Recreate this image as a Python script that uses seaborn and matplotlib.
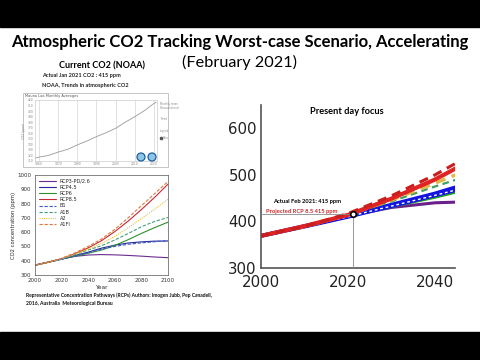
import matplotlib
matplotlib.use("Agg")
import matplotlib.pyplot as plt
from matplotlib.patches import Rectangle, Ellipse
import seaborn as sns
import pandas as pd

sns.set_theme(style="white")
plt.rcParams['font.family'] = ['DejaVu Sans']

# ---------------- data ----------------
noaa_years = [1958, 1960, 1965, 1970, 1975, 1980, 1985, 1990, 1995, 2000, 2005, 2010, 2015, 2020, 2021]
noaa_co2 = [315, 317, 320, 326, 331, 339, 346, 354, 361, 369, 380, 390, 401, 414, 416]
noaa_xticks = [1960, 1970, 1980, 1990, 2000, 2010, 2020]

years = [2000, 2010, 2020, 2030, 2040, 2050, 2060, 2070, 2080, 2090, 2100]
rcp26 = [369, 390, 412, 430, 440, 443, 441, 437, 432, 426, 421]
rcp45 = [369, 390, 411, 436, 460, 488, 509, 524, 532, 537, 538]
rcp6 = [369, 390, 411, 432, 452, 475, 507, 547, 591, 632, 670]
rcp85 = [369, 390, 414, 449, 490, 540, 604, 677, 758, 844, 936]
b1 = [369, 389, 410, 433, 456, 480, 500, 515, 525, 533, 540]
a1b = [369, 389, 414, 443, 475, 505, 545, 590, 638, 675, 703]
a2 = [369, 389, 414, 446, 482, 520, 570, 630, 695, 760, 830]
a1fi = [369, 389, 417, 455, 500, 552, 620, 700, 785, 870, 955]

scenario_names = ["RCP3-PD/2.6", "RCP4.5", "RCP6", "RCP8.5", "B1", "A1B", "A2", "A1FI"]
scenario_values = [rcp26, rcp45, rcp6, rcp85, b1, a1b, a2, a1fi]

actual_year = 2021.1
actual_ppm = 415

SLIDE_FONT = "Lato"

# ---------------- figure ----------------
W, H = 480, 360
fig = plt.figure(figsize=(4.8, 3.6), dpi=100)
fig.patch.set_facecolor("white")

def fx(px):
    return px / W

def fy(py):
    return 1 - py / H

def box(x0, y0, x1, y1):
    return [fx(x0), fy(y1), (x1 - x0) / W, (y1 - y0) / H]

# black letterbox bars
fig.add_artist(Rectangle((0, fy(27)), 1, 27 / H, transform=fig.transFigure, color="black", zorder=0))
fig.add_artist(Rectangle((0, 0), 1, (360 - 332) / H, transform=fig.transFigure, color="black", zorder=0))

# titles
fig.text(fx(240), fy(42), "Atmospheric CO2 Tracking Worst-case Scenario, Accelerating",
         ha="center", va="center", fontsize=11.95, fontweight="bold", family=SLIDE_FONT, color="black")
fig.text(fx(240), fy(62), "(February 2021)", ha="center", va="center", fontsize=11.7,
         family=SLIDE_FONT, color="black")
fig.text(fx(102), fy(66), "Current CO2 (NOAA)", ha="center", va="center", fontsize=6.45,
         fontweight="bold", family=SLIDE_FONT, color="black")
fig.text(fx(42), fy(76), "Actual Jan 2021 CO2 : 415 ppm", ha="left", va="center", fontsize=4.0,
         fontweight="bold", family=SLIDE_FONT, color="#222222")
fig.text(fx(42), fy(85), "NOAA, Trends in atmospheric CO2", ha="left", va="center", fontsize=4.0,
         fontweight="bold", family=SLIDE_FONT, color="#222222")

# ---------------- NOAA screenshot-like chart ----------------
fig.add_artist(Rectangle((fx(23), fy(167)), (168 - 23) / W, (167 - 93) / H, transform=fig.transFigure,
                         facecolor="white", edgecolor="#bbbbbb", lw=0.6, zorder=1))
fig.text(fx(25), fy(96.5), "Mauna Loa Monthly Averages", ha="left", va="center", fontsize=2.6,
         color="#555555", zorder=3)
ax1 = fig.add_axes(box(35, 100, 157, 161))
ax1.set_zorder(2)
sns.lineplot(x=noaa_years, y=noaa_co2, ax=ax1, color="#999999", lw=0.6)
ax1.set_xlim(1958, 2021.5)
ax1.set_ylim(310, 420)
ax1.set_xticks(noaa_xticks)
ax1.set_yticks(list(range(310, 421, 10)))
ax1.tick_params(labelsize=2.2, colors="#888888", length=0, pad=1)
ax1.grid(axis="x", color="#dddddd", lw=0.6)
ax1.set_ylabel("CO2 (ppm)", fontsize=2.2, color="#888888", labelpad=1)
for s in ax1.spines.values():
    s.set_color("#cccccc")
    s.set_linewidth(0.5)
fig.text(fx(160), fy(104), "Monthly mean", fontsize=1.8, color="#888888", va="center", zorder=3)
fig.text(fx(160), fy(108), "Deseasonalized", fontsize=1.8, color="#888888", va="center", zorder=3)
fig.text(fx(160), fy(119), "Trend", fontsize=1.8, color="#888888", va="center", zorder=3)
fig.text(fx(160), fy(131), "Legend", fontsize=1.8, color="#888888", va="center", zorder=3)
fig.add_artist(Rectangle((fx(160), fy(139)), 2 / W, 2 / H, transform=fig.transFigure, color="#555555", zorder=3))
fig.text(fx(163), fy(138), "Data", fontsize=1.8, color="#888888", va="center", zorder=3)
for cx in (141, 152):
    fig.add_artist(Ellipse((fx(cx), fy(157)), 8 / W, 8 / H, transform=fig.transFigure,
                           facecolor="#8ec6e8", edgecolor="#1f5f9f", lw=0.9, zorder=4))

# ---------------- RCP / SRES full chart ----------------
left_styles = {
    "RCP3-PD/2.6": ("#6b2d8f", "-"),
    "RCP4.5": ("#27279a", "-"),
    "RCP6": ("#2f8f2f", "-"),
    "RCP8.5": ("#c8283c", "-"),
    "B1": ("#3b57c8", (0, (3, 1.5))),
    "A1B": ("#43a07a", (0, (3, 1.5))),
    "A2": ("#e8c24a", (0, (1, 1))),
    "A1FI": ("#e07a3a", (0, (3, 1.5))),
}
ax2 = fig.add_axes(box(35, 175, 168, 275))
for name, vals in zip(scenario_names, scenario_values):
    c, ls = left_styles[name]
    sns.lineplot(x=years, y=vals, ax=ax2, color=c, linestyle=ls, lw=0.8, label=name)
ax2.set_xlim(2000, 2100)
ax2.set_ylim(300, 1000)
ax2.set_xticks(list(range(2000, 2101, 20)))
ax2.set_yticks(list(range(300, 1001, 100)))
ax2.tick_params(labelsize=4, length=1.5, width=0.4, pad=1, colors="#333333")
ax2.set_xlabel("Year", fontsize=4.2, labelpad=1)
ax2.set_ylabel("CO2 concentration (ppm)", fontsize=3.8, labelpad=1)
for s in ax2.spines.values():
    s.set_color("#555555")
    s.set_linewidth(0.5)
leg = ax2.legend(loc="upper left", frameon=False, fontsize=3.6, handlelength=3.5,
                 labelspacing=0.25, borderaxespad=0.3, handletextpad=0.8)
for line in leg.get_lines():
    line.set_linewidth(0.8)

fig.text(fx(26), fy(295), "Representative Concentration Pathways (RCPs) Authors: Imogen Jubb, Pep Canadell,",
         ha="left", va="center", fontsize=3.65, fontweight="bold", family=SLIDE_FONT, color="#111111")
fig.text(fx(26), fy(304), "2016, Australia  Meteorological Bureau",
         ha="left", va="center", fontsize=3.65, fontweight="bold", family=SLIDE_FONT, color="#111111")

# ---------------- Present day focus ----------------
right_styles = [
    ("RCP3-PD/2.6", "#6a1f8a", "-", 2.2),
    ("RCP6", "#22a022", "-", 2.2),
    ("RCP4.5", "#1414e0", "-", 2.8),
    ("B1", "#1414e0", "-", 2.8),
    ("A1B", "#40a060", (0, (3, 2)), 1.6),
    ("A2", "#e0b848", (0, (3, 2)), 2.4),
    ("RCP8.5", "#e02424", "-", 3.0),
    ("A1FI", "#c81e1e", (0, (3, 2)), 2.2),
]
lookup = dict(zip(scenario_names, scenario_values))
ax3 = fig.add_axes(box(261, 105, 455, 268))
for name, c, ls, lw in right_styles:
    sns.lineplot(x=years, y=lookup[name], ax=ax3, color=c, linestyle=ls, lw=lw)
    if name == "B1":
        sns.lineplot(x=years, y=lookup[name], ax=ax3, color="white", linestyle=(0, (2, 2)), lw=1.0)
ax3.set_xlim(2000, 2044.6)
ax3.set_ylim(300, 650)
ax3.set_xticks([2000, 2020, 2040])
ax3.set_yticks([300, 400, 500, 600])
ax3.tick_params(labelsize=10.8, direction="in", length=5, width=0.8, colors="#444444",
                labelcolor="#222222")
ax3.tick_params(axis="x", pad=5)
ax3.tick_params(axis="y", pad=3)
ax3.set_xlabel("")
ax3.set_ylabel("")
for side in ("top", "right"):
    ax3.spines[side].set_visible(False)
for side in ("left", "bottom"):
    ax3.spines[side].set_color("#555555")
    ax3.spines[side].set_linewidth(1.2)
ax3.plot([2000, actual_year], [actual_ppm, actual_ppm], color="#888888", lw=0.6, zorder=5)
ax3.plot([actual_year, actual_year], [300, actual_ppm], color="#888888", lw=0.6, zorder=5)
ax3.scatter([actual_year], [actual_ppm], s=16, facecolor="white", edgecolor="black", lw=1.2, zorder=6)
ax3.text(2002.8, 443, "Actual Feb 2021: 415 ppm", fontsize=4.15, fontweight="bold",
         family=SLIDE_FONT, color="black", va="center")
ax3.text(2001.2, 420.5, "Projected RCP 8.5 415 ppm", fontsize=4.15, fontweight="bold",
         family=SLIDE_FONT, color="#c82828", va="center")
fig.text(fx(347), fy(111), "Present day focus", ha="center", va="center", fontsize=6.7,
         fontweight="bold", family=SLIDE_FONT, color="black")

fig.savefig("out.png", dpi=100, facecolor="white")
